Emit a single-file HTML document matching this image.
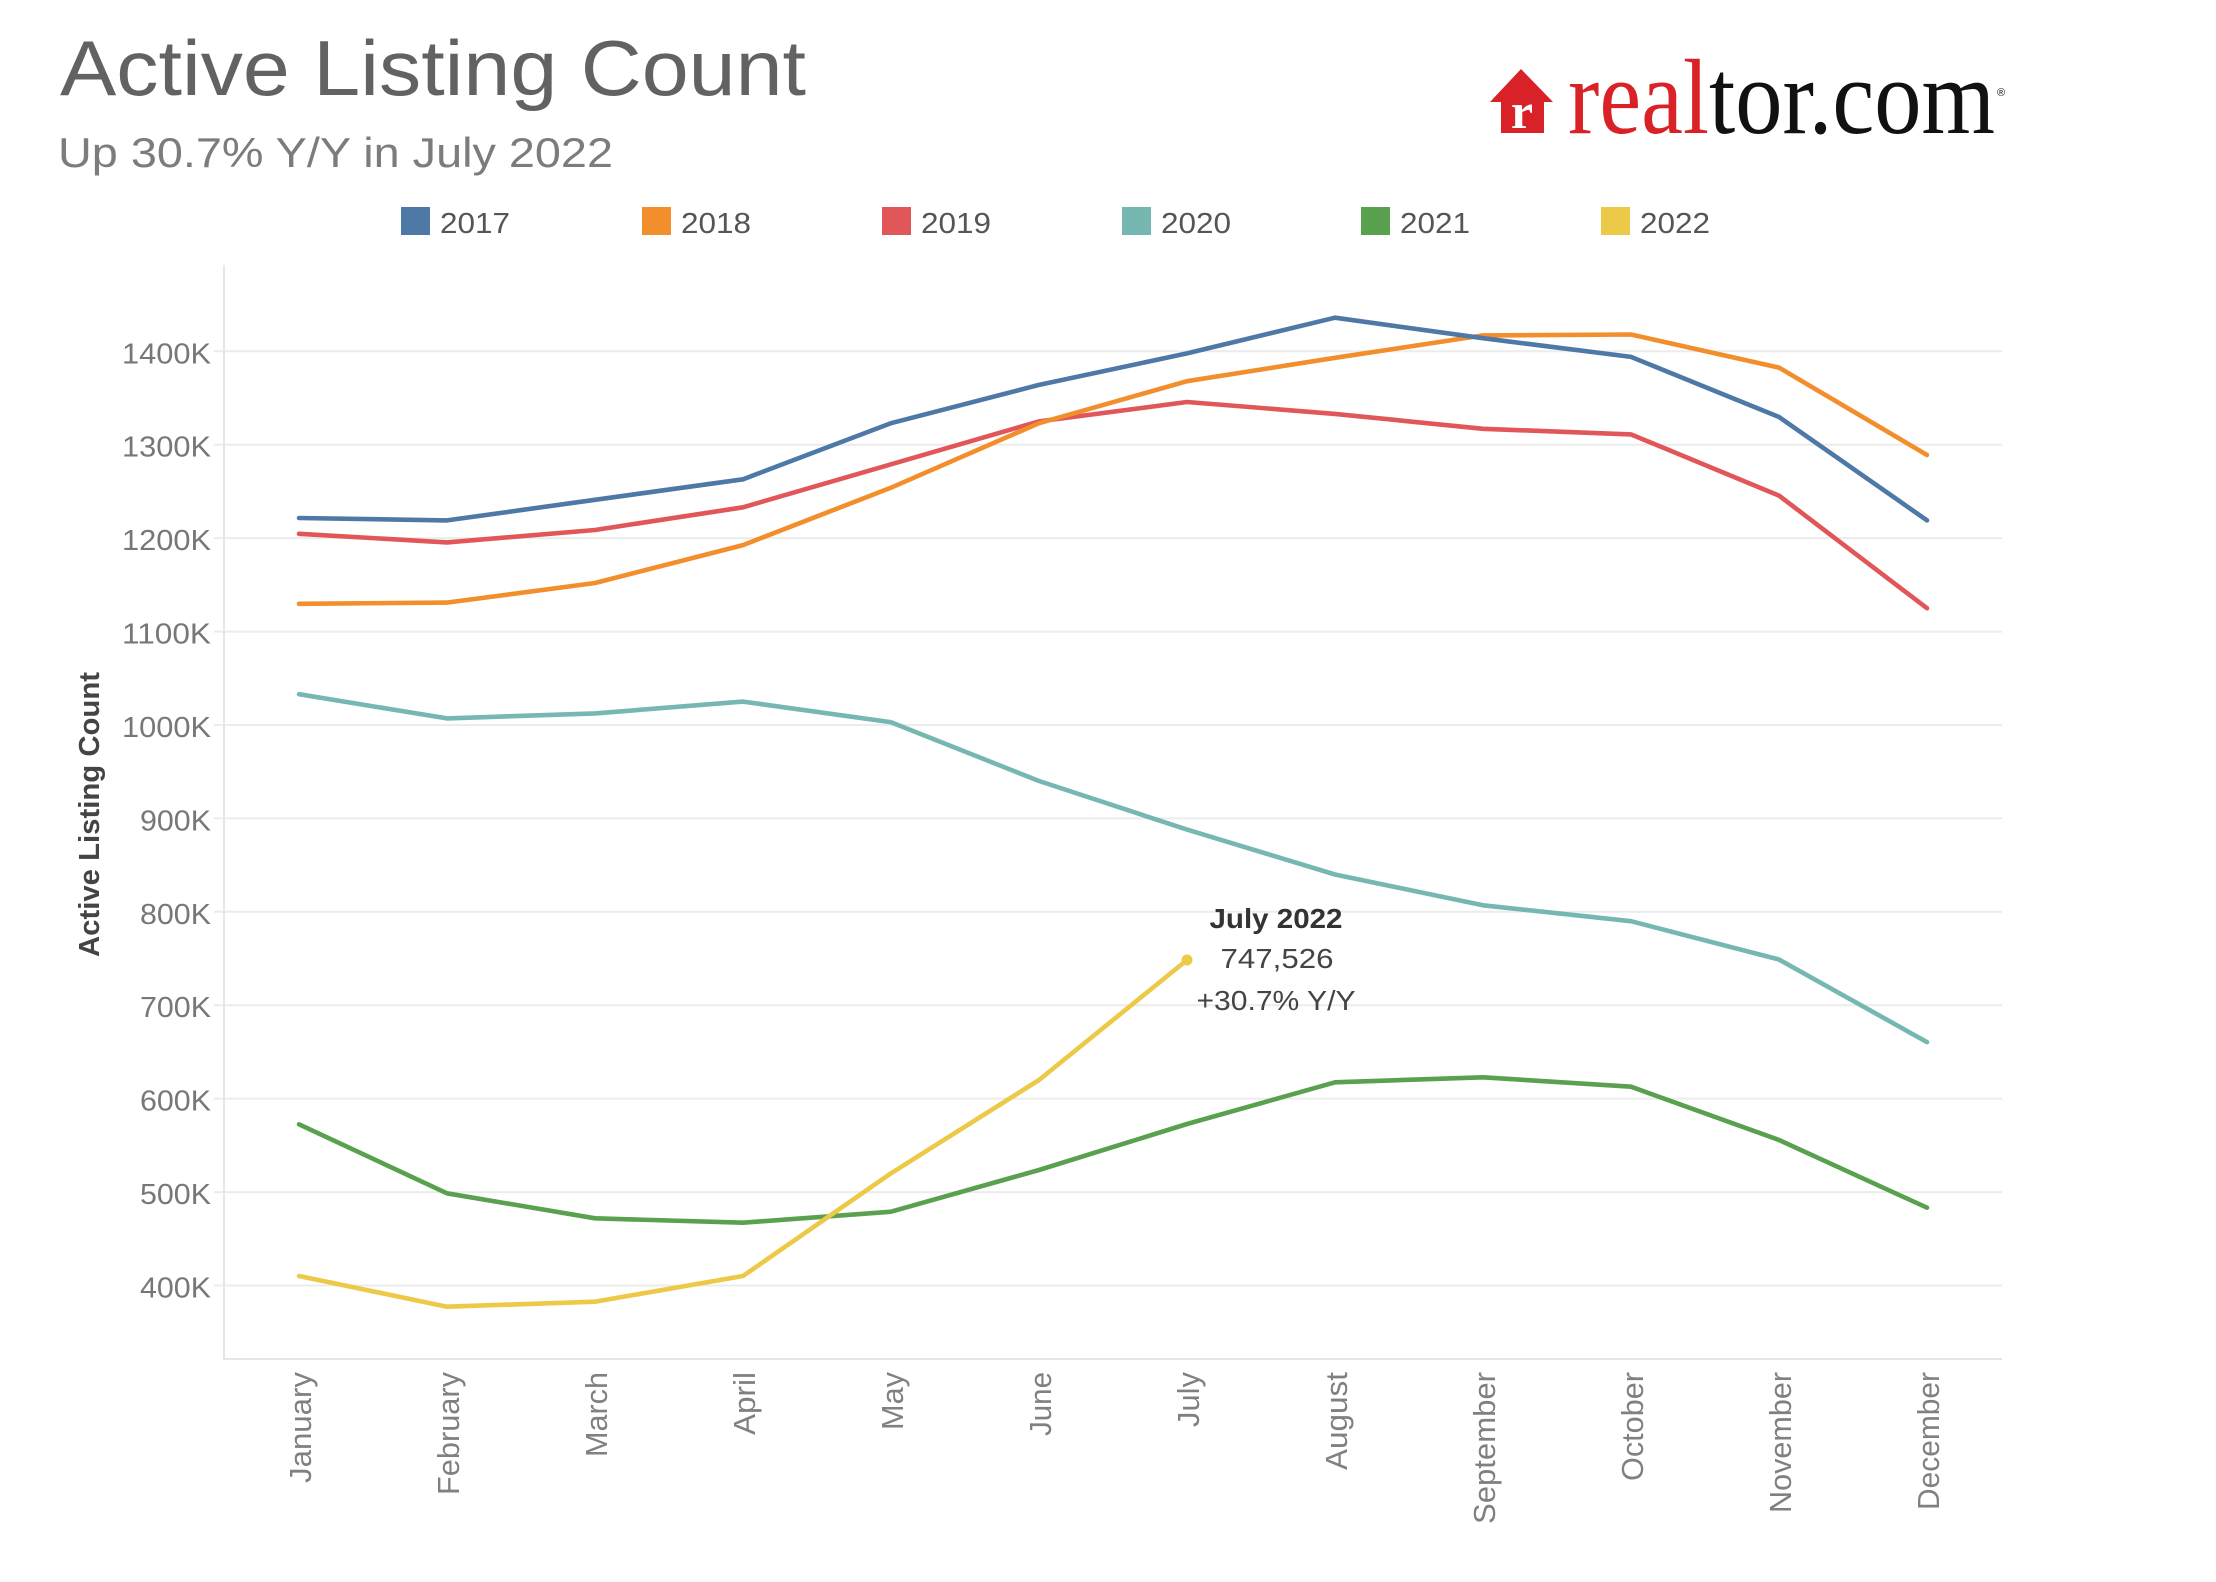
<!DOCTYPE html>
<html>
<head>
<meta charset="utf-8">
<style>
  html, body { margin: 0; padding: 0; background: #ffffff; }
  svg { display: block; }
  text { font-family: "Liberation Sans", Arial, sans-serif; }
  text.serif { font-family: "Liberation Serif", "Times New Roman", serif; }
</style>
</head>
<body>
<svg width="2216" height="1582" viewBox="0 0 2216 1582" xmlns="http://www.w3.org/2000/svg">
  <rect x="0" y="0" width="2216" height="1582" fill="#ffffff"/>

  <!-- Title -->
  <text x="60" y="95" font-size="78" fill="#626262" textLength="746" lengthAdjust="spacingAndGlyphs">Active Listing Count</text>
  <text x="58" y="167" font-size="42" fill="#7c7c7c" textLength="555" lengthAdjust="spacingAndGlyphs">Up 30.7% Y/Y in July 2022</text>

  <!-- Logo -->
  <path d="M1490,102 L1521,69 L1553,102 L1544,102 L1544,133 L1501,133 L1501,102 Z" fill="#d92228"/>
  <text class="serif" x="1522" y="128" style="font-family:'Liberation Serif',serif;font-size:50px;font-weight:bold" fill="#ffffff" text-anchor="middle">r</text>
  <text class="serif" x="1568" y="133" style="font-family:'Liberation Serif',serif;font-size:107px" fill="#d92228" textLength="141" lengthAdjust="spacingAndGlyphs">real</text>
  <text class="serif" x="1709" y="133" style="font-family:'Liberation Serif',serif;font-size:107px" fill="#111111" textLength="286" lengthAdjust="spacingAndGlyphs">tor.com</text>
  <text x="1997" y="96" font-size="11" fill="#111111">®</text>

  <!-- Legend -->
  <g font-size="29" fill="#555555">
    <rect x="401" y="207" width="29" height="28" fill="#4e79a7"/>
    <text x="440" y="233" textLength="70" lengthAdjust="spacingAndGlyphs">2017</text>
    <rect x="642" y="207" width="29" height="28" fill="#f28e2b"/>
    <text x="681" y="233" textLength="70" lengthAdjust="spacingAndGlyphs">2018</text>
    <rect x="882" y="207" width="29" height="28" fill="#e15759"/>
    <text x="921" y="233" textLength="70" lengthAdjust="spacingAndGlyphs">2019</text>
    <rect x="1122" y="207" width="29" height="28" fill="#76b7b2"/>
    <text x="1161" y="233" textLength="70" lengthAdjust="spacingAndGlyphs">2020</text>
    <rect x="1361" y="207" width="29" height="28" fill="#59a14f"/>
    <text x="1400" y="233" textLength="70" lengthAdjust="spacingAndGlyphs">2021</text>
    <rect x="1601" y="207" width="29" height="28" fill="#edc948"/>
    <text x="1640" y="233" textLength="70" lengthAdjust="spacingAndGlyphs">2022</text>
  </g>

  <!-- Gridlines -->
  <g stroke="#ececec" stroke-width="2">
    <line x1="214" y1="351.3" x2="2002" y2="351.3"/>
    <line x1="214" y1="444.7" x2="2002" y2="444.7"/>
    <line x1="214" y1="538.1" x2="2002" y2="538.1"/>
    <line x1="214" y1="631.6" x2="2002" y2="631.6"/>
    <line x1="214" y1="725.0" x2="2002" y2="725.0"/>
    <line x1="214" y1="818.4" x2="2002" y2="818.4"/>
    <line x1="214" y1="911.8" x2="2002" y2="911.8"/>
    <line x1="214" y1="1005.2" x2="2002" y2="1005.2"/>
    <line x1="214" y1="1098.6" x2="2002" y2="1098.6"/>
    <line x1="214" y1="1192.1" x2="2002" y2="1192.1"/>
    <line x1="214" y1="1285.5" x2="2002" y2="1285.5"/>
  </g>
  <!-- Axes -->
  <g stroke="#e6e6e6" stroke-width="2">
    <line x1="224" y1="265" x2="224" y2="1360"/>
    <line x1="224" y1="1359" x2="2002" y2="1359"/>
  </g>

  <!-- Y tick labels -->
  <g font-size="29" fill="#777777" text-anchor="end">
    <text x="211" y="363.3" textLength="89" lengthAdjust="spacingAndGlyphs">1400K</text>
    <text x="211" y="456.7" textLength="89" lengthAdjust="spacingAndGlyphs">1300K</text>
    <text x="211" y="550.1" textLength="89" lengthAdjust="spacingAndGlyphs">1200K</text>
    <text x="211" y="643.6" textLength="89" lengthAdjust="spacingAndGlyphs">1100K</text>
    <text x="211" y="737.0" textLength="89" lengthAdjust="spacingAndGlyphs">1000K</text>
    <text x="211" y="830.4" textLength="71" lengthAdjust="spacingAndGlyphs">900K</text>
    <text x="211" y="923.8" textLength="71" lengthAdjust="spacingAndGlyphs">800K</text>
    <text x="211" y="1017.2" textLength="71" lengthAdjust="spacingAndGlyphs">700K</text>
    <text x="211" y="1110.6" textLength="71" lengthAdjust="spacingAndGlyphs">600K</text>
    <text x="211" y="1204.1" textLength="71" lengthAdjust="spacingAndGlyphs">500K</text>
    <text x="211" y="1297.5" textLength="71" lengthAdjust="spacingAndGlyphs">400K</text>
  </g>

  <!-- Y axis title -->
  <text transform="translate(99,814.5) rotate(-90)" text-anchor="middle" font-size="29" font-weight="bold" fill="#444444" textLength="285" lengthAdjust="spacingAndGlyphs">Active Listing Count</text>

  <!-- X labels -->
  <g font-size="31" fill="#808080" text-anchor="end">
    <text transform="translate(311,1372) rotate(-90)" textLength="111" lengthAdjust="spacingAndGlyphs">January</text>
    <text transform="translate(459,1372) rotate(-90)" textLength="123" lengthAdjust="spacingAndGlyphs">February</text>
    <text transform="translate(607,1372) rotate(-90)" textLength="85" lengthAdjust="spacingAndGlyphs">March</text>
    <text transform="translate(755,1372) rotate(-90)" textLength="63" lengthAdjust="spacingAndGlyphs">April</text>
    <text transform="translate(903,1372) rotate(-90)" textLength="58" lengthAdjust="spacingAndGlyphs">May</text>
    <text transform="translate(1051,1372) rotate(-90)" textLength="64" lengthAdjust="spacingAndGlyphs">June</text>
    <text transform="translate(1199,1372) rotate(-90)" textLength="55" lengthAdjust="spacingAndGlyphs">July</text>
    <text transform="translate(1347,1372) rotate(-90)" textLength="98" lengthAdjust="spacingAndGlyphs">August</text>
    <text transform="translate(1495,1372) rotate(-90)" textLength="152" lengthAdjust="spacingAndGlyphs">September</text>
    <text transform="translate(1643,1372) rotate(-90)" textLength="109" lengthAdjust="spacingAndGlyphs">October</text>
    <text transform="translate(1791,1372) rotate(-90)" textLength="141" lengthAdjust="spacingAndGlyphs">November</text>
    <text transform="translate(1939,1372) rotate(-90)" textLength="138" lengthAdjust="spacingAndGlyphs">December</text>
  </g>

  <!-- Series -->
  <g fill="none" stroke-width="4.6" stroke-linejoin="round" stroke-linecap="round">
    <!-- 2020 -->
    <polyline stroke="#76b7b2" points="299,694.2 447,718.4 595,713.4 743,701.6 891,722.2 1039,781.0 1187,829.6 1335,874.5 1483,905.3 1631,921.2 1779,959.5 1927,1042.1"/>
    <!-- 2021 -->
    <polyline stroke="#59a14f" points="299,1124.3 447,1193.3 595,1218.3 743,1222.7 891,1211.7 1039,1170 1187,1124 1335,1082.3 1483,1077.3 1631,1086.7 1779,1140 1927,1207.7"/>
    <!-- 2022 -->
    <polyline stroke="#edc948" points="299,1276 447,1306.7 595,1301.7 743,1276 891,1173.3 1039,1080 1187,960"/>
    <!-- 2019 -->
    <polyline stroke="#e15759" points="299,533.8 447,542.4 595,530.0 743,507.3 891,464.3 1039,421.4 1187,402.0 1335,413.9 1483,428.8 1631,434.4 1779,495.6 1927,608.2"/>
    <!-- 2018 -->
    <polyline stroke="#f28e2b" points="299,603.8 447,602.6 595,583.0 743,545.1 891,487.7 1039,423.2 1187,381.2 1335,357.8 1483,335.4 1631,334.5 1779,367.6 1927,455.0"/>
    <!-- 2017 -->
    <polyline stroke="#4e79a7" points="299,518.0 447,520.4 595,499.8 743,479.3 891,423.2 1039,384.9 1187,353.4 1335,317.7 1483,338.2 1631,356.9 1779,417.0 1927,520.4"/>
  </g>
  <circle cx="1187" cy="960" r="5.5" fill="#edc948"/>

  <!-- Annotation -->
  <g text-anchor="middle" font-size="28">
    <text x="1276" y="928" font-weight="bold" fill="#333333" textLength="133" lengthAdjust="spacingAndGlyphs">July 2022</text>
    <text x="1277" y="968" fill="#444444" textLength="113" lengthAdjust="spacingAndGlyphs">747,526</text>
    <text x="1276" y="1010" fill="#444444" textLength="159" lengthAdjust="spacingAndGlyphs">+30.7% Y/Y</text>
  </g>
</svg>
</body>
</html>
